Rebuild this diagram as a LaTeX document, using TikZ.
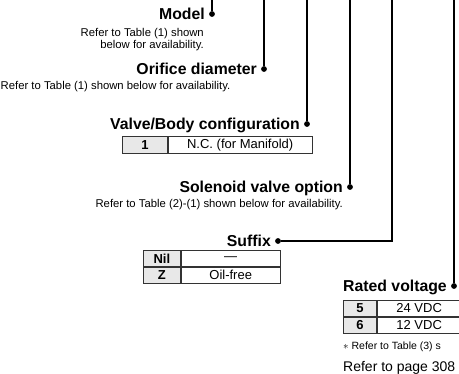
\documentclass[tikz,border=0pt]{standalone}
\usepackage{fontspec}
\setmainfont{Liberation Sans}
\begin{document}
\begin{tikzpicture}[x=1pt,y=-1pt,
  lbl/.style={font=\fontsize{15.8}{18}\selectfont\bfseries, inner sep=0pt, anchor=base east},
  note/.style={font=\fontsize{11.3}{11.5}\selectfont, inner sep=0pt},
  dotc/.style={circle, fill=black, inner sep=0pt, minimum size=5.8pt},
  lead/.style={line width=1.35pt},
  cellk/.style={draw=black!80, fill=black!9, line width=0.8pt, font=\fontsize{13}{14}\selectfont\bfseries, inner sep=0pt, minimum height=16pt, anchor=north west},
  cellv/.style={draw=black!80, line width=0.8pt, font=\fontsize{13}{14}\selectfont, inner sep=0pt, minimum height=16pt, anchor=north west},
]
\useasboundingbox (0,0) rectangle (459,374);
\clip (0,0) rectangle (459,374);

% dots
\node[dotc] (d1) at (212,14) {};
\node[dotc] (d2) at (264,69) {};
\node[dotc] (d3) at (307,124) {};
\node[dotc] (d4) at (350,187) {};
\node[dotc] (d5) at (278,241) {};
\node[dotc] (d6) at (454,286) {};

\coordinate (t1) at (212,0);
\coordinate (t2) at (264,0);
\coordinate (t3) at (307,0);
\coordinate (t4) at (350,0);
\coordinate (t5) at (392,0);
\coordinate (t6) at (454,0);

\draw[lead] (t1) -- (d1);
\draw[lead] (t2) -- (d2);
\draw[lead] (t3) -- (d3);
\draw[lead] (t4) -- (d4);
\draw[lead] (d5) -| (t5);
\draw[lead] (t6) -- (d6);

% labels
\node[lbl] (l1) at (205,19.7) {Model};
\node[lbl] (l2) at (257,74.7) {Orifice diameter};
\node[lbl] (l3) at (300,129.7) {Valve/Body configuration};
\node[lbl] (l4) at (343,192.7) {Solenoid valve option};
\node[lbl] (l5) at (271,246.7) {Suffix};
\node[lbl] (l6) at (447,291.7) {Rated voltage};

% notes
\node[note, anchor=base east, align=right] (n1) at (204,48.5) {Refer to Table (1) shown\\below for availability.};
\node[note, anchor=base west] (n2) at (0.5,90) {Refer to Table (1) shown below for availability.};
\node[note, anchor=base east] (n4) at (343,208) {Refer to Table (2)-(1) shown below for availability.};

% valve/body table
\node[cellk, minimum width=45pt, minimum height=17pt] (v1k) at (122,136) {1};
\node[cellv, minimum width=144pt, minimum height=17pt] (v1v) at (v1k.north east) {N.C. (for Manifold)};

% suffix table
\node[cellk, minimum width=37pt] (s1k) at (143,250) {Nil};
\node[cellv, minimum width=99pt] (s1v) at (s1k.north east) {---};
\node[cellk, minimum width=37pt] (s2k) at (s1k.south west) {Z};
\node[cellv, minimum width=99pt] (s2v) at (s2k.north east) {Oil-free};

% rated voltage table
\node[cellk, minimum width=33pt] (r1k) at (343,300) {5};
\node[cellv, minimum width=100pt] (r1v) at (r1k.north east) {\hspace*{-16pt}24 VDC};
\node[cellk, minimum width=33pt] (r2k) at (r1k.south west) {6};
\node[cellv, minimum width=100pt] (r2v) at (r2k.north east) {\hspace*{-16pt}12 VDC};

\node[note, anchor=base west, font=\fontsize{10.5}{12}\selectfont] (n6) at (343,350) {$\ast$ Refer to Table (3) s};
\node[note, anchor=base west, font=\fontsize{14}{16}\selectfont] (n7) at (343,372) {Refer to page 308};
\end{tikzpicture}
\end{document}
